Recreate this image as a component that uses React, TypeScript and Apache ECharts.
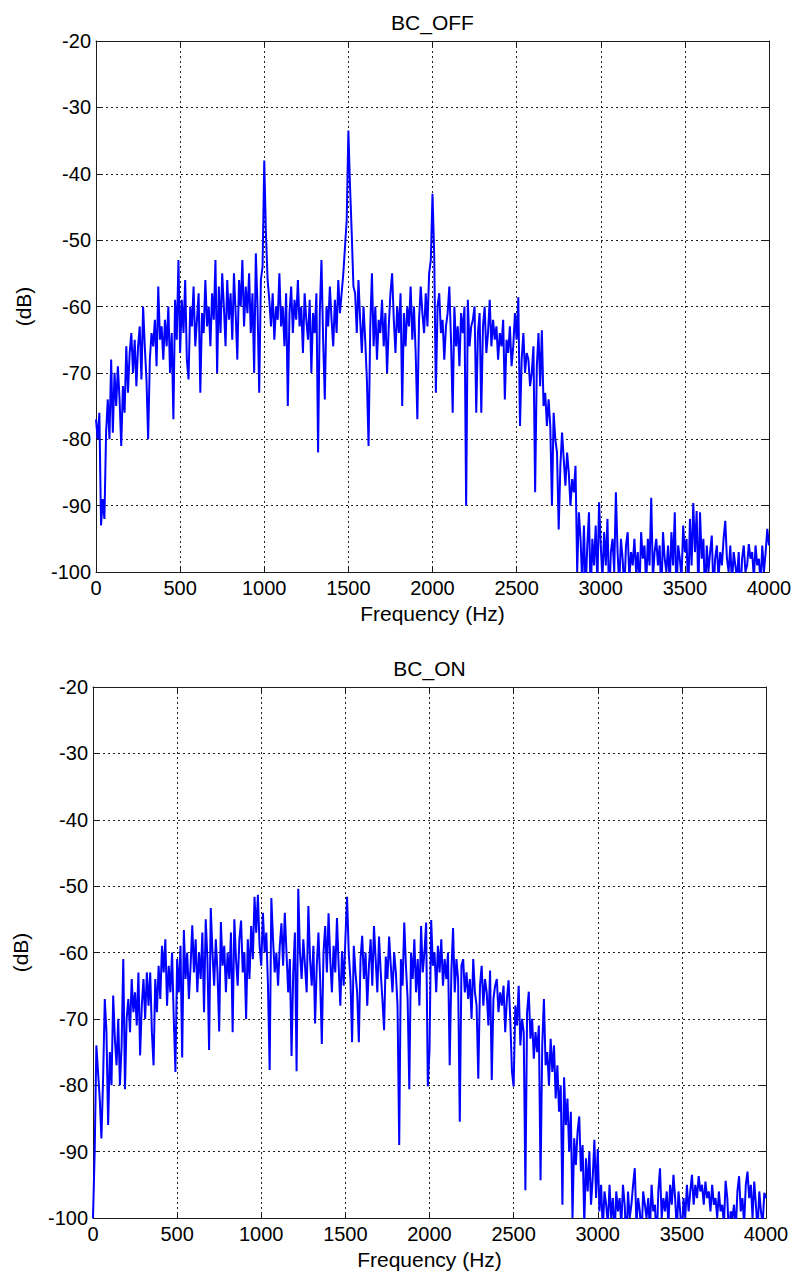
import React, { useEffect, useRef } from "react";
import * as echarts from "echarts";

const FREQ_STEP_HZ = 10;
const X_TICKS = [0, 500, 1000, 1500, 2000, 2500, 3000, 3500, 4000];
const Y_TICKS = [-100, -90, -80, -70, -60, -50, -40, -30, -20];
const TITLES = ["BC_OFF", "BC_ON"];
const X_NAME = "Frequency (Hz)";
const Y_NAME = "(dB)";

// BC_OFF spectrum, one value per 10 Hz bin (0 .. 4000 Hz)
const BC_OFF = [
  -77, -80, -76, -93, -89, -92, -79, -74, -80, -68,
  -79, -70, -75, -69, -74, -81, -72, -76, -66, -73,
  -67, -64, -70, -65, -72, -66, -63, -71, -60, -66,
  -71, -80, -68, -64, -66, -62, -69, -57, -65, -63,
  -68, -62, -66, -60, -70, -64, -77, -59, -65, -53,
  -67, -59, -64, -56, -68, -71, -60, -63, -57, -66,
  -62, -58, -73, -61, -64, -56, -63, -60, -66, -58,
  -62, -53, -70, -57, -64, -55, -60, -66, -56, -62,
  -58, -65, -55, -61, -68, -56, -60, -53, -63, -57,
  -61, -55, -64, -58, -70, -52, -60, -73, -56, -54,
  -38, -49, -56, -59, -63, -58, -65, -60, -62, -55,
  -63, -60, -66, -58, -75, -61, -57, -64, -59, -62,
  -56, -63, -60, -67, -58, -62, -65, -59, -70, -61,
  -64, -58, -82, -61, -53, -65, -74, -60, -63, -57,
  -62, -66, -59, -64, -56, -61, -58, -55, -51, -47,
  -33.5, -42, -49, -57, -58, -64, -56, -62, -67, -60,
  -65, -71, -81, -63, -55, -66, -60, -68, -62, -64,
  -59, -66, -61, -70, -63, -58, -55, -62, -67, -60,
  -64, -58, -75, -61, -66, -60, -63, -57, -65, -60,
  -67, -77, -62, -57, -61, -64, -58, -63, -55, -53,
  -43, -52, -73, -60, -58, -64, -62, -68, -63, -61,
  -57, -65, -76, -60, -66, -63, -69, -61, -64, -60,
  -90, -59, -66, -63, -62, -60, -76, -64, -61, -76,
  -63, -60, -67, -64, -59, -66, -62, -65, -63, -68,
  -64, -66, -62, -74, -65, -67, -63, -69, -66, -61,
  -65, -58.6, -78, -68, -64, -70, -67, -68, -72, -70,
  -66, -88, -69, -64, -72, -63.6, -75, -73, -78, -74,
  -78, -90, -76, -80, -82, -93.6, -84, -79, -83, -87,
  -82, -85, -90, -86, -88, -84, -100, -91, -95, -102,
  -93, -103, -96, -91, -104, -95, -99, -93, -102, -89.5,
  -96, -101, -94, -99, -92, -105, -97, -95, -100, -88,
  -97, -102, -95, -98, -103, -96, -94, -101, -97, -99,
  -95, -100, -97, -103, -94, -98, -96, -102, -95, -99,
  -88.8, -101, -97, -95, -99, -96, -104, -94, -98, -100,
  -96, -102, -94, -99, -91, -104, -96, -98, -101, -93,
  -97, -95, -104, -92, -99, -89.6, -97, -90.8, -103, -91,
  -98, -95, -104, -96, -100, -97, -94.5, -103, -98, -96,
  -101, -97, -99, -95, -92.3, -98, -100, -96, -102, -97,
  -99, -101, -97, -104, -98, -96, -100, -99, -95.8, -98,
  -97, -101, -96, -99, -98, -102, -96, -100, -97, -93.5,
  -96,
];

// BC_ON spectrum, one value per 10 Hz bin (0 .. 4000 Hz)
const BC_ON = [
  -100, -90, -74, -78, -82, -88, -79, -67, -72, -86,
  -75, -80, -66.5, -73, -77, -70, -80, -74, -61, -80.6,
  -70, -67, -72, -64, -69, -66, -71, -63, -75.5, -68,
  -64, -70, -63, -68, -63, -72, -77, -64, -69, -62,
  -67, -59, -63, -58, -68, -62, -66, -60, -70, -78,
  -61, -66, -59, -75.8, -56.6, -64, -60, -67, -62, -55.9,
  -63, -58, -66, -60, -64, -57, -69, -55, -61, -74.7,
  -53.3, -60, -65, -58, -63, -71.9, -55.4, -62, -59, -66,
  -60, -64, -57, -72, -55, -61, -65, -58, -55.2, -63,
  -60, -70, -58, -64, -56, -61, -51.6, -57, -51.3, -59,
  -62, -54, -60, -57, -65, -77.7, -51.8, -58, -63, -60,
  -65, -59, -55.6, -62, -54, -60, -66, -61, -75.6, -63,
  -57, -77.9, -50.4, -60, -64, -58, -62, -66, -53, -61,
  -65, -59, -70.7, -62, -57, -64, -73.8, -60, -56, -63,
  -54.1, -61, -66, -59, -63, -54.8, -62, -68, -59.8, -65,
  -58, -51.6, -60, -64, -73.5, -59, -63, -66, -73.5, -61,
  -57.5, -64, -60, -68, -62, -58, -65, -56, -61, -66,
  -57.6, -63, -67, -71.7, -60.6, -64, -57.6, -62, -66, -60,
  -63, -68, -89, -61, -65, -55.5, -62, -67, -80.6, -60,
  -64, -58, -66, -61, -68, -56, -63, -60, -55.5, -80.2,
  -74.7, -55.1, -62, -60, -66, -59, -63, -58, -65, -61,
  -64, -60, -77, -63, -56.3, -66, -61, -64, -85.5, -62,
  -61, -66, -63, -67, -64, -70, -61, -66, -68, -79,
  -65, -62, -68, -64, -66, -71, -62.7, -79.2, -67, -65,
  -64, -69, -66, -68, -65, -72, -67, -64.2, -70, -77.9,
  -80.2, -68, -71, -65, -74, -70, -72, -95.8, -69, -65.9,
  -73, -70, -76, -72, -75, -71, -94.3, -74, -67, -77,
  -75, -80, -73, -78, -74, -82, -77, -84, -80, -98,
  -78.8, -86, -82, -90, -84, -100, -88, -92, -87, -84.7,
  -93, -89, -101, -91, -96, -90, -98, -94, -88.2, -97,
  -89.6, -99, -95, -102, -96, -98, -101, -95, -100, -97,
  -103, -96, -99, -97, -101, -95, -98, -104, -96, -100,
  -98, -95, -92.5, -101, -97, -99, -103, -96, -98, -100,
  -97, -102, -95, -99, -98, -104, -96, -92.5, -100, -97,
  -99, -96, -101, -95, -98, -93.5, -97, -102, -96, -99,
  -103, -97, -100, -95, -99, -96, -93.5, -98, -95, -97,
  -93.7, -96, -95, -98, -94.5, -97, -96, -99, -95, -98,
  -97, -100, -96, -99, -98, -101, -94.4, -97, -103, -99,
  -100, -98, -102, -96, -93.7, -99, -97, -101, -95, -93,
  -97, -95, -100, -94.5, -98, -102, -96, -99, -101, -96.2,
  -97,
];

const FONT = "'Liberation Sans', Arial, Helvetica, sans-serif";
const INK = "#1a1a1a";

export default function App() {
  const ref = useRef<HTMLDivElement>(null);

  useEffect(() => {
    document.body.style.margin = "0";
    if (!ref.current) return;
    const chart = echarts.init(ref.current, undefined, { renderer: "svg" });

    const toPairs = (vals: number[]) => vals.map((v, i) => [i * FREQ_STEP_HZ, v]);

    const grids = [
      { left: 96, top: 41, width: 673, height: 531 },
      { left: 93, top: 687, width: 673, height: 531 },
    ];

    const xMin = X_TICKS[0];
    const xMax = X_TICKS[X_TICKS.length - 1];
    const xInt = X_TICKS[1] - X_TICKS[0];
    const yMin = Y_TICKS[0];
    const yMax = Y_TICKS[Y_TICKS.length - 1];
    const yInt = Y_TICKS[1] - Y_TICKS[0];

    const axisLine = { show: true, onZero: false, lineStyle: { color: INK, width: 1 } };
    const tickIn = { show: true, inside: true, length: 6, lineStyle: { color: INK, width: 1 } };
    const gridLine = { show: true, lineStyle: { color: "#222", width: 1, type: [2, 3] as any } };
    const labelStyle = { color: "#000", fontSize: 20, fontFamily: FONT };
    const plain = (v: number) => String(v);

    const xAxes: any[] = [];
    const yAxes: any[] = [];
    grids.forEach((_, gi) => {
      xAxes.push({
        type: "value", gridIndex: gi, position: "bottom",
        min: xMin, max: xMax, interval: xInt,
        axisLine, axisTick: tickIn, splitLine: gridLine,
        axisLabel: { ...labelStyle, margin: 6, formatter: plain, showMinLabel: true, showMaxLabel: true },
        name: X_NAME, nameLocation: "middle", nameGap: 31,
        nameTextStyle: { color: "#000", fontSize: 21, fontFamily: FONT },
      });
      xAxes.push({
        type: "value", gridIndex: gi, position: "top",
        min: xMin, max: xMax, interval: xInt,
        axisLine, axisTick: tickIn, splitLine: { show: false },
        axisLabel: { show: false },
      });
      yAxes.push({
        type: "value", gridIndex: gi, position: "left",
        min: yMin, max: yMax, interval: yInt,
        axisLine, axisTick: tickIn, splitLine: gridLine,
        axisLabel: { ...labelStyle, margin: 5, formatter: plain, showMinLabel: true, showMaxLabel: true },
        name: Y_NAME, nameLocation: "middle", nameGap: 62,
        nameTextStyle: { color: "#000", fontSize: 21, fontFamily: FONT },
      });
      yAxes.push({
        type: "value", gridIndex: gi, position: "right",
        min: yMin, max: yMax, interval: yInt,
        axisLine, axisTick: tickIn, splitLine: { show: false },
        axisLabel: { show: false },
      });
    });

    const seriesData = [BC_OFF, BC_ON];

    chart.setOption({
      animation: false,
      backgroundColor: "#ffffff",
      grid: grids,
      xAxis: xAxes,
      yAxis: yAxes,
      graphic: grids.map((g, gi) => ({
        type: "text",
        x: g.left + g.width / 2,
        y: g.top - 19,
        style: {
          text: TITLES[gi],
          align: "center",
          verticalAlign: "middle",
          fontSize: 21,
          fontFamily: FONT,
          fill: "#000",
        },
      })),
      series: seriesData.map((vals, gi) => ({
        type: "line",
        name: TITLES[gi],
        xAxisIndex: gi * 2,
        yAxisIndex: gi * 2,
        data: toPairs(vals),
        showSymbol: false,
        symbol: "none",
        clip: true,
        lineStyle: { color: "#0000ff", width: 2 },
        itemStyle: { color: "#0000ff" },
      })),
    });

    return () => {
      chart.dispose();
    };
  }, []);

  return <div ref={ref} style={{ width: 795, height: 1275 }} />;
}
